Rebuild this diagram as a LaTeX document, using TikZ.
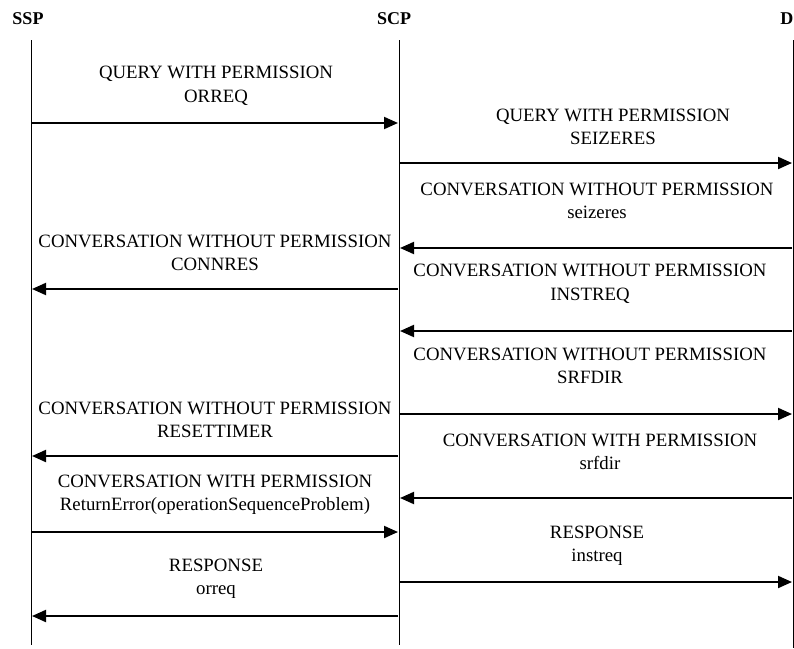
\documentclass[tikz,border=0pt]{standalone}
\usepackage{fontspec}
\setmainfont{Liberation Serif}
\usetikzlibrary{arrows.meta}
\begin{document}
\begin{tikzpicture}[x=1pt,y=-1pt,
  lifeline/.style={line width=1pt},
  msg/.style={line width=2pt,-{Triangle[length=14pt,width=12pt]}},
  head/.style={font=\fontsize{18}{20}\selectfont\bfseries, inner sep=0pt},
  lbl/.style={align=center, inner sep=0pt, font=\fontsize{18.8}{23.5}\selectfont}]
\useasboundingbox (0,0) rectangle (794,648);
% heads
\node[head] (ssp) at (28,19) {SSP};
\node[head] (scp) at (394,19) {SCP};
\node[head, anchor=east] (dd) at (793.5,19) {D};
% lifelines
\coordinate (sspT) at (31,40);
\coordinate (sspB) at (31,645);
\coordinate (scpT) at (399,40);
\coordinate (scpB) at (399,645);
\coordinate (dT) at (793,40);
\coordinate (dB) at (793,648);
\draw[lifeline] (sspT) -- (sspB);
\draw[lifeline] (scpT) -- (scpB);
\draw[lifeline] (dT) -- (dB);
% message endpoints
\foreach \n/\y in {1/123,2/163,3/248,4/289,5/331,6/414,7/456,8/498,9/532,10/582,11/616}{
  \coordinate (a\n) at (32,\y);
  \coordinate (b\n) at (398,\y);
  \coordinate (c\n) at (400,\y);
  \coordinate (d\n) at (792,\y);
}
% messages
\draw[msg] (a1) -- (b1);
\node[lbl] (l1) at (216,86) {QUERY WITH PERMISSION\\ORREQ};
\draw[msg] (c2) -- (d2);
\node[lbl] (l2) at (613,127) {QUERY WITH PERMISSION\\SEIZERES};
\draw[msg] (d3) -- (c3);
\node[lbl] (l3) at (597,201) {CONVERSATION WITHOUT PERMISSION\\seizeres};
\draw[msg] (b4) -- (a4);
\node[lbl] (l4) at (215,253) {CONVERSATION WITHOUT PERMISSION\\CONNRES};
\draw[msg] (d5) -- (c5);
\node[lbl] (l5) at (590,284) {CONVERSATION WITHOUT PERMISSION\\INSTREQ};
\draw[msg] (c6) -- (d6);
\node[lbl] (l6) at (590,366) {CONVERSATION WITHOUT PERMISSION\\SRFDIR};
\draw[msg] (b7) -- (a7);
\node[lbl] (l7) at (215,420) {CONVERSATION WITHOUT PERMISSION\\RESETTIMER};
\draw[msg] (d8) -- (c8);
\node[lbl] (l8) at (600,452) {CONVERSATION WITH PERMISSION\\srfdir};
\draw[msg] (a9) -- (b9);
\node[lbl] (l9) at (215,495) {CONVERSATION WITH PERMISSION\\ReturnError(operationSequenceProblem)};
\draw[msg] (c10) -- (d10);
\node[lbl] (l10) at (597,546) {RESPONSE\\instreq};
\draw[msg] (b11) -- (a11);
\node[lbl] (l11) at (216,579) {RESPONSE\\orreq};
\end{tikzpicture}
\end{document}
